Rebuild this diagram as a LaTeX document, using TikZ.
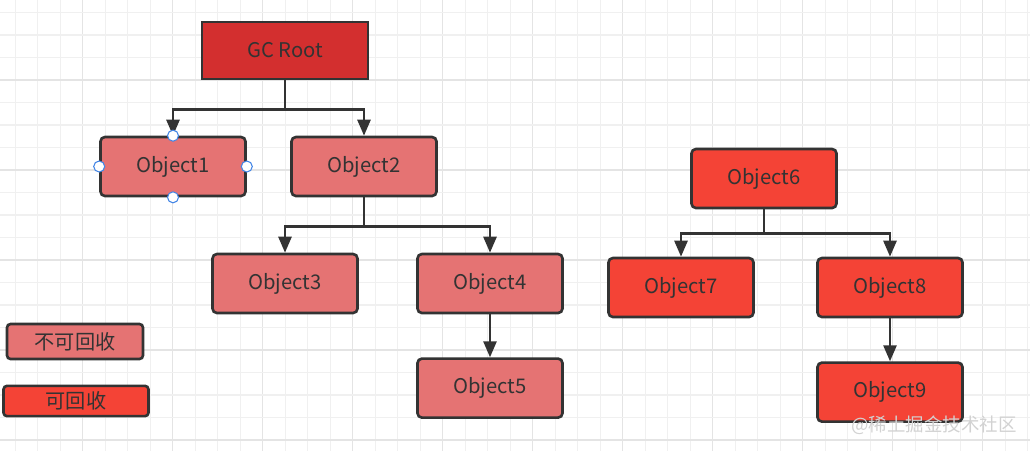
\documentclass[tikz,border=0pt]{standalone}
\usepackage{fontspec}
\setmainfont{Noto Sans CJK SC}
\usetikzlibrary{arrows.meta, positioning}
\definecolor{rootred}{RGB}{211,47,47}
\definecolor{livered}{RGB}{229,115,115}
\definecolor{deadred}{RGB}{244,67,54}
\definecolor{mydark}{RGB}{51,51,51}
\definecolor{gridminor}{RGB}{240,240,240}
\definecolor{gridmajor}{RGB}{228,228,228}
\definecolor{handleblue}{RGB}{66,133,230}
\definecolor{watermark}{RGB}{210,210,210}
\tikzset{
  rootblock/.style={rectangle, draw=mydark, fill=rootred, text=mydark,
    minimum width=3.32cm, minimum height=1.14cm,
    font=\fontsize{11.5}{13}\selectfont, line width=1.5pt},
  liveblock/.style={rectangle, draw=mydark, fill=livered, text=mydark,
    minimum width=2.9cm, minimum height=1.18cm,
    font=\fontsize{11.5}{13}\selectfont, rounded corners=2.5pt, line width=1.5pt},
  deadblock/.style={liveblock, fill=deadred},
  legendbox/.style={rectangle, draw=mydark, text=mydark,
    font=\fontsize{11.5}{13}\selectfont, rounded corners=2pt, line width=1.5pt},
  handle/.style={circle, draw=handleblue, fill=white, inner sep=0pt,
    minimum size=0.22cm, line width=0.6pt},
  arrow/.style={-{Triangle[length=3.2mm, width=2.6mm]}, line width=1.5pt, color=mydark},
  gridline/.style={color=gridminor, line width=0.6pt},
  gridbold/.style={color=gridmajor, line width=0.7pt}
}

\begin{document}
\begin{tikzpicture}[x=0.02cm, y=-0.02cm]
  \useasboundingbox (0,0) rectangle (1030,451);
  \fill[white] (0,0) rectangle (1030,451);

  % --- Background grid ---
  \foreach \k in {0,...,45} {
    \pgfmathsetmacro{\gx}{15.2+22.5*\k}
    \pgfmathtruncatemacro{\gm}{mod(\k,4)}
    \ifnum\gm=3
      \draw[gridbold] (\gx,0) -- (\gx,451);
    \else
      \draw[gridline] (\gx,0) -- (\gx,451);
    \fi
  }
  \foreach \k in {0,...,19} {
    \pgfmathsetmacro{\gy}{12.5+22.5*\k}
    \pgfmathtruncatemacro{\gm}{mod(\k,4)}
    \ifnum\gm=3
      \draw[gridbold] (0,\gy) -- (1030,\gy);
    \else
      \draw[gridline] (0,\gy) -- (1030,\gy);
    \fi
  }

  % --- Reachable tree ---
  \node[rootblock] (gc) at (285,50.5) {GC Root};
  \node[liveblock] (obj1) at (173,166.5) {Object1};
  \node[liveblock] (obj2) at (364,166.5) {Object2};
  \node[liveblock] (obj3) at (285,283.5) {Object3};
  \node[liveblock] (obj4) at (490,283.5) {Object4};
  \node[liveblock, below=0.86cm of obj4] (obj5) {Object5};

  \draw[arrow] (gc.south) -- ++(0,29) -| (obj1.north);
  \draw[arrow] (gc.south) -- ++(0,29) -| (obj2.north);
  \draw[arrow] (obj2.south) -- ++(0,29) -| (obj3.north);
  \draw[arrow] (obj2.south) -- ++(0,29) -| (obj4.north);
  \draw[arrow] (obj4) -- (obj5);

  % selection handles on Object1
  \node[handle] (h1n) at (obj1.north) {};
  \node[handle] (h1s) at (obj1.south) {};
  \node[handle] (h1w) at (obj1.west) {};
  \node[handle] (h1e) at (obj1.east) {};

  % --- Unreachable tree ---
  \node[deadblock] (obj6) at (764,178.5) {Object6};
  \node[deadblock] (obj7) at (681,287.5) {Object7};
  \node[deadblock] (obj8) at (890,287.5) {Object8};
  \node[deadblock, below=0.86cm of obj8] (obj9) {Object9};

  \draw[arrow] (obj6.south) -- ++(0,24) -| (obj7.north);
  \draw[arrow] (obj6.south) -- ++(0,24) -| (obj8.north);
  \draw[arrow] (obj8) -- (obj9);

  % --- Legend ---
  \node[legendbox, fill=livered, minimum width=2.72cm, minimum height=0.7cm]
    (keylive) at (75,341.5) {不可回收};
  \node[legendbox, fill=deadred, minimum width=2.9cm, minimum height=0.6cm]
    (keydead) at (76,401) {可回收};

  \node[font=\fontsize{10.5}{12}\selectfont, color=watermark] (mark) at (934,425) {@稀土掘金技术社区};
\end{tikzpicture}
\end{document}
